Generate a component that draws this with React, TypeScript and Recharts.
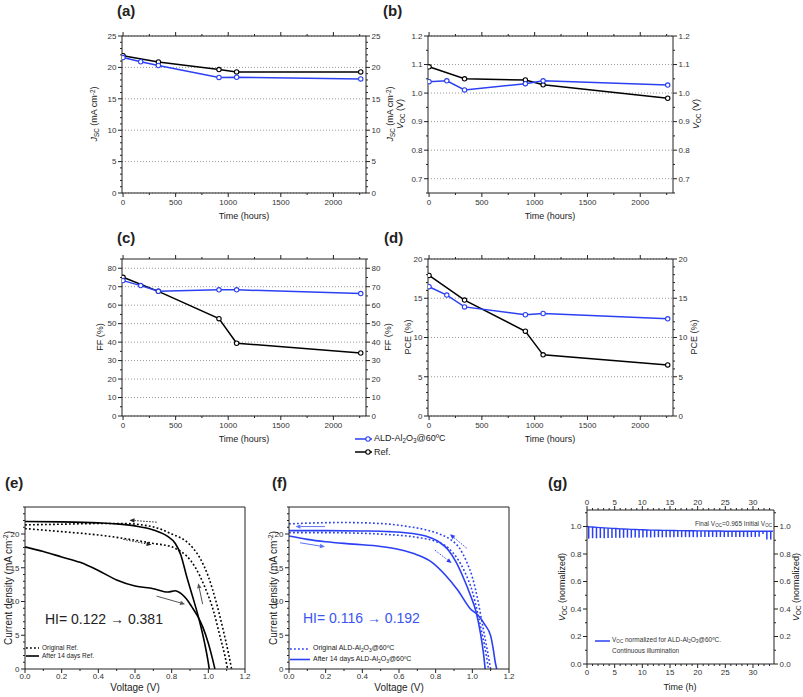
import React from 'react'
import {
  LineChart, ComposedChart, Line, Bar, XAxis, YAxis, CartesianGrid, ReferenceLine,
} from 'recharts'

const FONT = '"Liberation Sans", Arial, Helvetica, sans-serif'
const INK = '#222'
const TICK_INK = '#333'
const BLUE = '#2b40f2'
const BLUE_SOFT = '#5d74f3'

// ── (a)-(d): parameters vs time ────────────────────────────────
const hoursAld = [0, 168, 336, 912, 1080, 2260]
const hoursRef = [0, 336, 912, 1080, 2260]
const jscAld = [21.56, 20.9, 20.3, 18.4, 18.43, 18.17]
const jscRef = [21.87, 20.87, 19.65, 19.28, 19.28]
const vocAld = [1.04, 1.043, 1.011, 1.033, 1.043, 1.028]
const vocRef = [1.092, 1.05, 1.046, 1.029, 0.982]
const ffAld = [73.3, 70.6, 67.5, 68.3, 68.3, 66.3]
const ffRef = [75.1, 67.5, 52.7, 39.4, 34.1]
const pceAld = [16.47, 15.4, 13.9, 12.9, 13.06, 12.38]
const pceRef = [17.9, 14.77, 10.8, 7.79, 6.51]

const hourTicks = [0, 500, 1000, 1500, 2000]
const hourDomain: [number, number] = [-10, 2310]
const jscTicks = [0, 5, 10, 15, 20, 25]
const vocTicks = [0.7, 0.8, 0.9, 1.0, 1.1, 1.2]
const ffTicks = [0, 10, 20, 30, 40, 50, 60, 70, 80]
const pceTicks = [0, 5, 10, 15, 20]

// ── (e) reference cell J-V, [V, J] ─────────────────────────────
const eOrigRev = [[0, 21.35], [0.2, 21.45], [0.4, 21.55], [0.55, 21.55], [0.65, 21.3], [0.72, 20.9], [0.8, 20.0], [0.88, 18.9], [0.92, 17.8], [0.955, 16.4], [1.0, 13.7], [1.045, 9.7], [1.08, 5.9], [1.11, 2.3], [1.127, 0]]
const eOrigFwd = [[0, 20.8], [0.2, 20.35], [0.4, 19.85], [0.55, 19.3], [0.7, 18.6], [0.8, 18.1], [0.85, 17.4], [0.88, 16.8], [0.93, 15.0], [0.98, 12.2], [1.027, 8.7], [1.064, 4.8], [1.09, 2.0], [1.105, 0]]
const eAgedRev = [[0, 21.85], [0.2, 21.8], [0.4, 21.65], [0.5, 21.5], [0.6, 21.2], [0.7, 20.6], [0.78, 19.6], [0.82, 18.6], [0.85, 16.9], [0.88, 13.9], [0.92, 10.2], [0.95, 7.3], [0.98, 3.8], [1.0, 0.9], [1.005, 0]]
const eAgedFwd = [[0, 18.1], [0.1, 17.4], [0.2, 16.6], [0.3, 15.8], [0.4, 14.6], [0.5, 13.2], [0.6, 12.3], [0.7, 11.9], [0.78, 11.4], [0.82, 11.6], [0.85, 11.2], [0.88, 10.4], [0.91, 9.2], [0.94, 7.9], [0.97, 6.2], [1.0, 3.8], [1.02, 1.8], [1.036, 0]]

// ── (f) ALD-Al2O3 cell J-V, [V, J] ─────────────────────────────
const fOrigRev = [[0, 21.5], [0.15, 21.65], [0.3, 21.7], [0.5, 21.55], [0.65, 21.1], [0.75, 20.6], [0.82, 20.0], [0.88, 19.2], [0.93, 17.9], [0.97, 15.8], [1.0, 13.6], [1.03, 10.2], [1.055, 6.6], [1.08, 3.0], [1.1, 0]]
const fOrigFwd = [[0, 20.2], [0.2, 20.2], [0.4, 20.1], [0.55, 19.9], [0.7, 19.5], [0.8, 18.9], [0.87, 17.9], [0.92, 16.3], [0.96, 14.3], [1.0, 11.5], [1.03, 8.2], [1.055, 5.0], [1.075, 2.2], [1.088, 0]]
const fAgedRev = [[0, 20.5], [0.2, 20.5], [0.4, 20.45], [0.55, 20.35], [0.65, 20.15], [0.75, 19.65], [0.82, 18.8], [0.87, 17.6], [0.91, 15.9], [0.95, 13.6], [0.99, 10.9], [1.02, 8.5], [1.045, 5.2], [1.06, 2.5], [1.07, 0]]
const fAgedFwd = [[0, 19.7], [0.1, 19.2], [0.2, 18.85], [0.35, 18.5], [0.5, 18.15], [0.6, 17.7], [0.7, 16.9], [0.78, 15.8], [0.85, 14.0], [0.92, 11.7], [0.99, 8.9], [1.03, 8.0], [1.07, 6.5], [1.1, 4.9], [1.115, 2.8], [1.125, 1.0], [1.133, 0]]

const voltTicks = [0, 0.2, 0.4, 0.6, 0.8, 1.0, 1.2]
const jTicks = [0, 5, 10, 15, 20]

// scan-direction arrows, [V, J] from -> to
const eArrows = [
  { from: [0.718, 21.75], to: [0.57, 22.05], color: INK, dashed: true },
  { from: [0.536, 19.2], to: [0.69, 18.4], color: INK, dashed: true },
  { from: [0.718, 10.8], to: [0.873, 9.6], color: '#555', dashed: false },
  { from: [0.969, 9.6], to: [0.945, 12.7], color: '#555', dashed: false },
]
const fArrows = [
  { from: [0.196, 21.1], to: [0.035, 21.1], color: BLUE_SOFT, dashed: false },
  { from: [0.06, 18.7], to: [0.196, 18.1], color: BLUE_SOFT, dashed: false },
  { from: [0.969, 17.9], to: [0.878, 19.95], color: BLUE, dashed: true },
  { from: [0.796, 17.6], to: [0.887, 15.7], color: BLUE, dashed: true },
]

// ── (g) normalized Voc under continuous illumination ──────────
const gStart = [0, 1.0]
const gEnd = [33.6, 0.965]
const spikeHours = [0.35, 1.05, 1.75, 2.45, 3.15, 3.85, 4.55, 5.25, 5.95, 6.65, 7.35, 8.05, 8.75, 9.45, 10.15, 10.85, 11.55, 12.25, 12.95, 13.65, 14.35, 15.05, 15.75, 16.45, 17.15, 17.85, 18.55, 19.25, 19.95, 20.65, 21.35, 22.05, 22.75, 23.45, 24.15, 24.85, 25.55, 26.25, 26.95, 27.65, 28.35, 29.05, 29.75, 30.45, 31.15, 31.85, 32.55, 33.25]
const spikeTop = [0.998, 0.996, 0.994, 0.992, 0.99, 0.988, 0.986, 0.985, 0.983, 0.982, 0.981, 0.979, 0.978, 0.977, 0.976, 0.975, 0.974, 0.974, 0.973, 0.972, 0.972, 0.971, 0.971, 0.97, 0.97, 0.969, 0.969, 0.969, 0.968, 0.968, 0.968, 0.967, 0.967, 0.967, 0.967, 0.966, 0.966, 0.966, 0.966, 0.966, 0.965, 0.965, 0.965, 0.965, 0.965, 0.965, 0.965, 0.965]
const spikeLow = [0.912, 0.915, 0.914, 0.916, 0.915, 0.917, 0.916, 0.918, 0.917, 0.918, 0.919, 0.918, 0.92, 0.919, 0.92, 0.921, 0.92, 0.921, 0.922, 0.921, 0.922, 0.921, 0.922, 0.923, 0.922, 0.923, 0.922, 0.923, 0.922, 0.923, 0.924, 0.923, 0.924, 0.923, 0.924, 0.923, 0.924, 0.923, 0.924, 0.923, 0.924, 0.923, 0.924, 0.923, 0.925, 0.945, 0.905, 0.905]
const gHourTicks = [0, 5, 10, 15, 20, 25, 30]
const gVocTicks = [0, 0.2, 0.4, 0.6, 0.8, 1.0]

// ── helpers ────────────────────────────────────────────────────
const steps = (lo: number, hi: number, step: number) => {
  const out: number[] = []
  for (let k = 0; lo + k * step <= hi + 1e-9; k++) out.push(+(lo + k * step).toFixed(6))
  return out
}
const minors = (lo: number, hi: number, step: number, majors: number[]) =>
  steps(lo, hi, step).filter((v) => !majors.some((m) => Math.abs(m - v) < 1e-6))

type Side = 'left' | 'right' | 'top' | 'bottom'
function makeTick(side: Side, majors: number[], fmt: ((v: number) => string) | null, gap = 1.5, size = 8) {
  const len = 4
  return (p: any) => {
    const v = Number(p.payload?.value)
    const isMajor = majors.some((m) => Math.abs(m - v) < 1e-6)
    const l = isMajor ? len : 2
    const x = Number(p.x)
    const y = Number(p.y)
    const label = isMajor && fmt ? fmt(v) : null
    const tp = { fontSize: size, fill: TICK_INK, fontFamily: FONT }
    if (side === 'bottom') return (
      <g>
        <line x1={x} y1={y} x2={x} y2={y + l} stroke={INK} />
        {label && <text x={x} y={y + len + gap} dy="0.72em" textAnchor="middle" {...tp}>{label}</text>}
      </g>
    )
    if (side === 'top') return (
      <g>
        <line x1={x} y1={y} x2={x} y2={y - l} stroke={INK} />
        {label && <text x={x} y={y - len - gap} textAnchor="middle" {...tp}>{label}</text>}
      </g>
    )
    if (side === 'left') return (
      <g>
        <line x1={x} y1={y} x2={x - l} y2={y} stroke={INK} />
        {label && <text x={x - len - gap} y={y} dy="0.35em" textAnchor="end" {...tp}>{label}</text>}
      </g>
    )
    return (
      <g>
        <line x1={x} y1={y} x2={x + l} y2={y} stroke={INK} />
        {label && <text x={x + len + gap} y={y} dy="0.35em" textAnchor="start" {...tp}>{label}</text>}
      </g>
    )
  }
}

const axisBase = {
  tickSize: 0, tickMargin: 0, tickLine: false, interval: 0 as const,
  axisLine: { stroke: INK, strokeWidth: 1 }, allowDataOverflow: true,
}
const NOMARGIN = { top: 0, right: 0, bottom: 0, left: 0 }

const Sub = ({ children }: any) => <span style={{ fontSize: '70%', verticalAlign: '-0.25em' }}>{children}</span>
const Sup = ({ children }: any) => <span style={{ fontSize: '70%', verticalAlign: '0.45em' }}>{children}</span>

function Txt({ x, y, size = 9, rot = false, align = 'center', color = INK, bold = false, children }: any) {
  const tx = align === 'center' ? '-50%' : align === 'right' ? '-100%' : '0'
  return (
    <div style={{
      position: 'absolute', left: x, top: y, fontSize: size, color, fontWeight: bold ? 700 : 400,
      fontFamily: FONT, whiteSpace: 'nowrap', lineHeight: 1,
      transform: `translate(${tx}, -50%)${rot ? ' rotate(-90deg)' : ''}`,
    }}>{children}</div>
  )
}

function arrowShape(color: string, dashed: boolean) {
  return (p: any) => {
    const { x1, y1, x2, y2 } = p
    const a = Math.atan2(y2 - y1, x2 - x1)
    const L = 5
    const W = 2.2
    const bx = x2 - L * Math.cos(a)
    const by = y2 - L * Math.sin(a)
    const pts = `${x2},${y2} ${bx - W * Math.sin(a)},${by + W * Math.cos(a)} ${bx + W * Math.sin(a)},${by - W * Math.cos(a)}`
    return (
      <g>
        <line x1={x1} y1={y1} x2={bx} y2={by} stroke={color} strokeWidth={1} strokeDasharray={dashed ? '1.5 1.5' : undefined} />
        <polygon points={pts} fill={color} />
      </g>
    )
  }
}

// ── time panel (a)-(d) ─────────────────────────────────────────
function TimePanel({ plot, yDomain, yMajors, yMinor, yFmt, ald, refv }: {
  plot: { x: number; y: number; w: number; h: number }
  yDomain: [number, number]
  yMajors: number[]
  yMinor: number
  yFmt: (v: number) => string
  ald: number[]
  refv: number[]
}) {
  const pad = { l: 40, r: 40, t: 8, b: 16 }
  const aldRows = hoursAld.map((t, i) => ({ t, v: ald[i] }))
  const refRows = hoursRef.map((t, i) => ({ t, v: refv[i] }))
  const xT = [...hourTicks, ...minors(0, 2300, 250, hourTicks)]
  const yT = [...yMajors, ...minors(yDomain[0], yDomain[1], yMinor, yMajors)]
  return (
    <div style={{ position: 'absolute', left: plot.x - pad.l, top: plot.y - pad.t }}>
      <LineChart width={plot.w + pad.l + pad.r} height={plot.h + pad.t + pad.b} margin={NOMARGIN}>
        <XAxis {...axisBase} xAxisId="b" type="number" dataKey="t" domain={hourDomain} ticks={xT} height={pad.b}
          tick={makeTick('bottom', hourTicks, (v) => String(v), 2.5)} />
        <XAxis {...axisBase} xAxisId="t" orientation="top" type="number" dataKey="t" domain={hourDomain} ticks={xT} height={pad.t}
          tick={makeTick('top', hourTicks, null)} />
        <YAxis {...axisBase} yAxisId="l" type="number" domain={yDomain} ticks={yT} width={pad.l}
          tick={makeTick('left', yMajors, yFmt, 1.5)} />
        <YAxis {...axisBase} yAxisId="r" orientation="right" type="number" domain={yDomain} ticks={yT} width={pad.r}
          tick={makeTick('right', yMajors, yFmt, 1.5)} />
        <CartesianGrid xAxisId="b" yAxisId="l" vertical={false} horizontalValues={yMajors} stroke="#9a9a9a" strokeDasharray="1 2" />
        <Line xAxisId="b" yAxisId="l" data={refRows} dataKey="v" type="linear" stroke="#000" strokeWidth={1.5}
          dot={{ r: 2.2, fill: '#fff', stroke: '#000', strokeWidth: 1.1 }} activeDot={false} isAnimationActive={false} />
        <Line xAxisId="b" yAxisId="l" data={aldRows} dataKey="v" type="linear" stroke={BLUE} strokeWidth={1.5}
          dot={{ r: 2.2, fill: '#fff', stroke: BLUE, strokeWidth: 1.1 }} activeDot={false} isAnimationActive={false} />
      </LineChart>
    </div>
  )
}

// ── J-V panel (e), (f) ─────────────────────────────────────────
type Curve = { pts: number[][]; dashed: boolean; color: string }
type Arrow = { from: number[]; to: number[]; color: string; dashed: boolean }

function JVPanel({ left, curves, arrows }: { left: number; curves: Curve[]; arrows: Arrow[] }) {
  const plot = { x: left, y: 507, w: 220, h: 162 }
  const pad = { l: 24, r: 10, t: 4, b: 14 }
  const xT = [...voltTicks, ...minors(0, 1.2, 0.1, voltTicks)]
  const yT = [...jTicks, ...minors(0, 24, 1, jTicks)]
  return (
    <div style={{ position: 'absolute', left: plot.x - pad.l, top: plot.y - pad.t }}>
      <LineChart width={plot.w + pad.l + pad.r} height={plot.h + pad.t + pad.b} margin={NOMARGIN}>
        <XAxis {...axisBase} xAxisId="b" type="number" dataKey="v" domain={[0, 1.2]} ticks={xT} height={pad.b}
          tick={makeTick('bottom', voltTicks, (v) => v.toFixed(1), 0.5)} />
        <XAxis {...axisBase} xAxisId="t" orientation="top" type="number" dataKey="v" domain={[0, 1.2]} height={pad.t} tick={false} />
        <YAxis {...axisBase} yAxisId="l" type="number" domain={[0, 24]} ticks={yT} width={pad.l}
          tick={makeTick('left', jTicks, (v) => String(v), 1.5)} />
        <YAxis {...axisBase} yAxisId="r" orientation="right" type="number" domain={[0, 24]} width={pad.r} tick={false} />
        {curves.map((c, i) => (
          <Line key={i} xAxisId="b" yAxisId="l" data={c.pts.map(([v, j]) => ({ v, j }))} dataKey="j" type="monotone"
            stroke={c.color} strokeWidth={1.6} strokeDasharray={c.dashed ? '1.8 2.2' : undefined}
            dot={false} activeDot={false} isAnimationActive={false} />
        ))}
        {arrows.map((a, i) => (
          <ReferenceLine key={'ar' + i} xAxisId="b" yAxisId="l"
            segment={[{ x: a.from[0], y: a.from[1] }, { x: a.to[0], y: a.to[1] }]}
            shape={arrowShape(a.color, a.dashed)} />
        ))}
      </LineChart>
    </div>
  )
}

// ── panel (g) ──────────────────────────────────────────────────
function VocPanel() {
  const plot = { x: 587, y: 510, w: 187, h: 154 }
  const pad = { l: 26, r: 26, t: 16, b: 16 }
  const rows = [
    { t: gStart[0], top: gStart[1], span: [gStart[1], gStart[1]] },
    ...spikeHours.map((t, i) => ({ t, top: spikeTop[i], span: [spikeLow[i], spikeTop[i]] })),
    { t: gEnd[0], top: gEnd[1], span: [gEnd[1], gEnd[1]] },
  ]
  const xT = [...gHourTicks, ...minors(0, 33, 1, gHourTicks)]
  const yT = [...gVocTicks, ...minors(0, 1.1, 0.1, gVocTicks)]
  const dom: [number, number] = [0, 33.8]
  const ydom: [number, number] = [0, 1.12]
  const f1 = (v: number) => v.toFixed(1)
  return (
    <div style={{ position: 'absolute', left: plot.x - pad.l, top: plot.y - pad.t }}>
      <ComposedChart data={rows} width={plot.w + pad.l + pad.r} height={plot.h + pad.t + pad.b} margin={NOMARGIN}>
        <XAxis {...axisBase} xAxisId="b" type="number" dataKey="t" domain={dom} ticks={xT} height={pad.b}
          tick={makeTick('bottom', gHourTicks, (v) => String(v), 1)} />
        <XAxis {...axisBase} xAxisId="t" orientation="top" type="number" dataKey="t" domain={dom} ticks={xT} height={pad.t}
          tick={makeTick('top', gHourTicks, (v) => String(v), 1.5)} />
        <YAxis {...axisBase} yAxisId="l" type="number" domain={ydom} ticks={yT} width={pad.l}
          tick={makeTick('left', gVocTicks, f1, 1.5)} />
        <YAxis {...axisBase} yAxisId="r" orientation="right" type="number" domain={ydom} ticks={yT} width={pad.r}
          tick={makeTick('right', gVocTicks, f1, 1.5)} />
        <Bar xAxisId="b" yAxisId="l" dataKey="span" fill={BLUE} barSize={1.5} isAnimationActive={false} />
        <Line xAxisId="b" yAxisId="l" dataKey="top" type="linear" stroke={BLUE} strokeWidth={1.4}
          dot={false} activeDot={false} isAnimationActive={false} />
      </ComposedChart>
    </div>
  )
}

const AldName = () => <>ALD-Al<Sub>2</Sub>O<Sub>3</Sub>@60ºC</>

export default function App() {
  const f1 = (v: number) => v.toFixed(1)
  const fi = (v: number) => String(v)
  return (
    <div style={{ position: 'absolute', left: 0, top: 0, width: 803, height: 697, background: '#fff', fontFamily: FONT, overflow: 'hidden' }}>
      {/* panel letters */}
      <Txt x={117} y={10} size={15} bold align="left">(a)</Txt>
      <Txt x={383} y={10} size={15} bold align="left">(b)</Txt>
      <Txt x={117} y={237} size={15} bold align="left">(c)</Txt>
      <Txt x={384} y={237} size={15} bold align="left">(d)</Txt>
      <Txt x={5} y={482} size={15} bold align="left">(e)</Txt>
      <Txt x={272} y={482} size={15} bold align="left">(f)</Txt>
      <Txt x={548} y={482} size={15} bold align="left">(g)</Txt>

      <TimePanel plot={{ x: 122, y: 36, w: 244, h: 157 }} yDomain={[0, 25]} yMajors={jscTicks} yMinor={1} yFmt={fi} ald={jscAld} refv={jscRef} />
      <TimePanel plot={{ x: 428, y: 36, w: 245, h: 157 }} yDomain={[0.65, 1.2]} yMajors={vocTicks} yMinor={0.05} yFmt={f1} ald={vocAld} refv={vocRef} />
      <TimePanel plot={{ x: 122, y: 259, w: 244, h: 157 }} yDomain={[0, 85]} yMajors={ffTicks} yMinor={5} yFmt={fi} ald={ffAld} refv={ffRef} />
      <TimePanel plot={{ x: 428, y: 259, w: 245, h: 157 }} yDomain={[0, 20]} yMajors={pceTicks} yMinor={1} yFmt={fi} ald={pceAld} refv={pceRef} />

      {/* axis titles (a)-(d) */}
      <Txt x={95} y={114} rot><i>J</i><Sub>SC</Sub> (mA cm<Sup>-2</Sup>)</Txt>
      <Txt x={391} y={114} rot><i>J</i><Sub>SC</Sub> (mA cm<Sup>-2</Sup>)</Txt>
      <Txt x={401} y={114} rot><i>V</i><Sub>OC</Sub> (V)</Txt>
      <Txt x={697} y={114} rot><i>V</i><Sub>OC</Sub> (V)</Txt>
      <Txt x={100} y={337} rot>FF (%)</Txt>
      <Txt x={388} y={337} rot>FF (%)</Txt>
      <Txt x={408} y={337} rot>PCE (%)</Txt>
      <Txt x={694} y={337} rot>PCE (%)</Txt>
      <Txt x={244} y={216}>Time (hours)</Txt>
      <Txt x={550} y={216}>Time (hours)</Txt>
      <Txt x={244} y={439}>Time (hours)</Txt>
      <Txt x={550} y={439}>Time (hours)</Txt>

      {/* legend (a)-(d) */}
      <svg style={{ position: 'absolute', left: 352, top: 432 }} width={24} height={28}>
        <line x1={3} y1={7} x2={20} y2={7} stroke={BLUE} strokeWidth={1.5} />
        <circle cx={16} cy={7} r={2.2} fill="#fff" stroke={BLUE} strokeWidth={1.1} />
        <line x1={3} y1={20} x2={20} y2={20} stroke="#000" strokeWidth={1.5} />
        <circle cx={16} cy={20} r={2.2} fill="#fff" stroke="#000" strokeWidth={1.1} />
      </svg>
      <Txt x={374} y={439} size={9} align="left"><AldName /></Txt>
      <Txt x={374} y={452} size={9} align="left">Ref.</Txt>

      {/* (e) */}
      <JVPanel left={25} curves={[
        { pts: eOrigRev, dashed: true, color: '#000' },
        { pts: eOrigFwd, dashed: true, color: '#000' },
        { pts: eAgedRev, dashed: false, color: '#000' },
        { pts: eAgedFwd, dashed: false, color: '#000' },
      ]} arrows={eArrows} />
      <Txt x={8} y={588} size={10} rot>Current density (mA cm<Sup>-2</Sup>)</Txt>
      <Txt x={135} y={688} size={10}>Voltage (V)</Txt>
      <Txt x={45} y={619} size={14} align="left">HI= 0.122 → 0.381</Txt>
      <svg style={{ position: 'absolute', left: 25, top: 643 }} width={16} height={18}>
        <line x1={1} y1={5} x2={14} y2={5} stroke="#000" strokeWidth={1.6} strokeDasharray="1.8 2.2" />
        <line x1={1} y1={13} x2={14} y2={13} stroke="#000" strokeWidth={1.6} />
      </svg>
      <Txt x={42} y={648} size={6.5} align="left">Original Ref.</Txt>
      <Txt x={42} y={656} size={6.5} align="left">After 14 days Ref.</Txt>

      {/* (f) */}
      <JVPanel left={289} curves={[
        { pts: fOrigRev, dashed: true, color: BLUE },
        { pts: fOrigFwd, dashed: true, color: BLUE },
        { pts: fAgedRev, dashed: false, color: BLUE },
        { pts: fAgedFwd, dashed: false, color: BLUE },
      ]} arrows={fArrows} />
      <Txt x={273} y={588} size={10} rot>Current density (mA cm<Sup>-2</Sup>)</Txt>
      <Txt x={399} y={688} size={10}>Voltage (V)</Txt>
      <Txt x={303} y={618} size={14} align="left" color="#3a55f0">HI= 0.116 → 0.192</Txt>
      <svg style={{ position: 'absolute', left: 289, top: 644 }} width={24} height={22}>
        <line x1={1} y1={5} x2={21} y2={5} stroke={BLUE} strokeWidth={1.6} strokeDasharray="1.8 2.2" />
        <line x1={1} y1={15.5} x2={21} y2={15.5} stroke={BLUE} strokeWidth={1.6} />
      </svg>
      <Txt x={313} y={649} size={7} align="left">Original <AldName /></Txt>
      <Txt x={313} y={659.5} size={7} align="left">After 14 days <AldName /></Txt>

      {/* (g) */}
      <VocPanel />
      <Txt x={563} y={587} size={9} rot><i>V</i><Sub>OC</Sub> (normalized)</Txt>
      <Txt x={797} y={587} size={9} rot><i>V</i><Sub>OC</Sub> (normalized)</Txt>
      <Txt x={680} y={687} size={9}>Time (h)</Txt>
      <Txt x={772} y={525} size={6.5} align="right" color="#333">Final V<Sub>OC</Sub>=0.965 Initial V<Sub>OC</Sub></Txt>
      <svg style={{ position: 'absolute', left: 594, top: 637 }} width={18} height={8}>
        <line x1={1} y1={4} x2={16} y2={4} stroke={BLUE} strokeWidth={1.5} />
      </svg>
      <Txt x={612} y={641} size={6.5} align="left" color="#333">V<Sub>OC</Sub> normalized for <AldName />.</Txt>
      <Txt x={612} y={651} size={6.5} align="left" color="#333">Continuous illumination</Txt>
    </div>
  )
}
